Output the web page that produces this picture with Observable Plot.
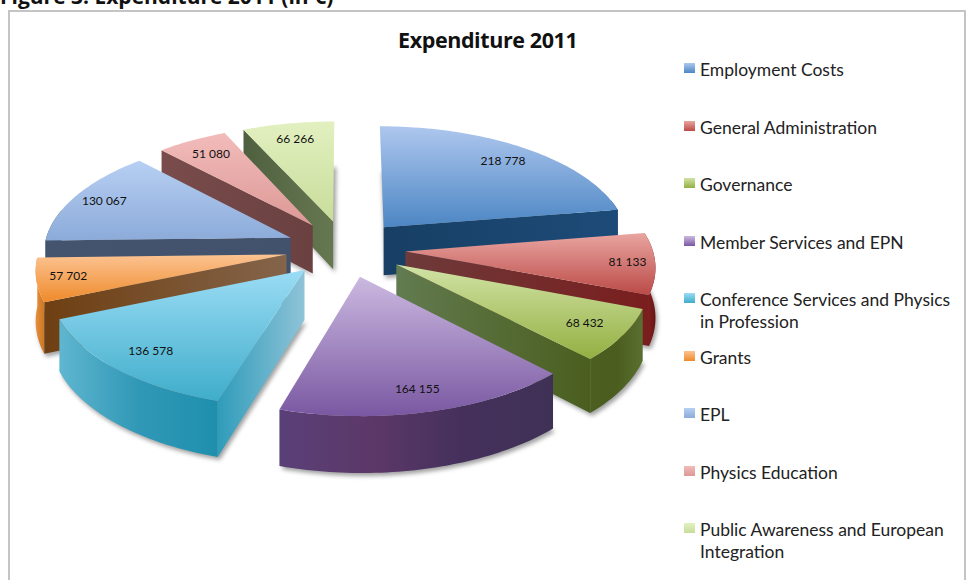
<!DOCTYPE html>
<html>
<head>
<meta charset="utf-8">
<script src="https://cdn.jsdelivr.net/npm/d3@7"></script>
<script src="https://cdn.jsdelivr.net/npm/@observablehq/plot@0.6"></script>
<style>
  html, body { margin: 0; padding: 0; background: #fff; width: 971px; height: 580px; overflow: hidden; font-family: Lato, "Open Sans", sans-serif; }
  #page { position: relative; width: 971px; height: 580px; overflow: hidden; }
  #heading { position: absolute; left: 0; top: -15px; font: bold 21px/22px "Open Sans", sans-serif; letter-spacing: 0; color: #111; white-space: nowrap; }
  #frame { position: absolute; left: 8px; top: 10px; width: 958px; height: 590px; border: 2px solid #c4c4c4; box-sizing: border-box; }
  #title { position: absolute; left: 398px; top: 27px; font: bold 21.5px/26px "Open Sans", sans-serif; color: #111; letter-spacing: -0.4px; }
  #chart { position: absolute; left: 0; top: 0; }
  #legend { position: absolute; left: 0; top: 0; }
  .item { position: absolute; left: 700px; width: 262px; font: 17.5px/22px Lato, sans-serif; color: #222; }
  .swatch { position: absolute; left: -16px; top: 4px; width: 11px; height: 10px; }
  .shadow { filter: blur(2px); }
</style>
</head>
<body>
<div id="page">
  <div id="heading">Figure 3: Expenditure 2011 (in €)</div>
  <div id="frame"></div>
  <div id="title">Expenditure 2011</div>
  <div id="chart"></div>
  <div id="legend"></div>
</div>
<script>
// ---- data ----
const categories = ["Employment Costs", "General Administration", "Governance", "Member Services and EPN",
  "Conference Services and Physics in Profession", "Grants", "EPL", "Physics Education",
  "Public Awareness and European Integration"];
const values = [218778, 81133, 68432, 164155, 136578, 57702, 130067, 51080, 66266];
const valueLabels = ["218 778", "81 133", "68 432", "164 155", "136 578", "57 702", "130 067", "51 080", "66 266"];

// ---- colours: top gradient, rim gradient, wall gradient for each slice ----
const topColors = [["#aec7ee","#4c86c4"],["#e9a5a1","#bb4a47"],["#d2e3a6","#93b042"],["#cbb9e0","#7a58a2"],
  ["#9bdcf5","#3fadca"],["#fcc391","#ee8a2b"],["#b7cff3","#8cabd9"],["#f2bcba","#dc9896"],["#e2f0c0","#c8dd9a"]];
const rimColors = [["#1b4a78","#1a4268","#1b4a78"],["#8f2220","#7a1c1c","#6a1414"],["#4c5f20","#4a5d1f","#5a7030"],
  ["#5a4078","#5c3868","#45305c","#3f3156"],["#5fb6d0","#3098b6","#1f8fae"],["#e89040","#d9822c","#c87a2a"],
  ["#44546e","#44546e","#44546e"],["#6e4545","#6e4545","#6e4545"],["#5f7050","#5f7050","#5f7050"]];
const wallColors = [["#173f64","#1d4b78"],["#6e3a3a","#7a1e1e"],["#627b50","#4a5e1e"],["#5a4078","#3f3156"],
  ["#2f9cba","#8fc3d8"],["#6e3f12","#84644a"],["#44546e","#42526c"],["#7a4c4c","#6a4040"],["#4f6040","#667850"]];

// ---- 3D pie geometry: slices follow from the values, through one shared perspective ----
const radius = 247, explode = 60, tilt = 0.473, depth = 2205, thickness = 49;
const labelReach = [0.83, 0.89, 0.84, 0.85, 0.83, 0.875, 0.865, 0.83, 0.83];
const total = d3.sum(values);
const project = (u, v, z) => {
  const w = depth / (depth + v);
  return {x: u * w, y: tilt * v * w - z * w};
};
const dir = (a) => [Math.sin(a), Math.cos(a)];
let running = 0;
const slices = values.map((value, i) => {
  const a0 = running / total * 2 * Math.PI;
  running += value;
  const a1 = running / total * 2 * Math.PI;
  const [bu, bv] = dir((a0 + a1) / 2);
  return {i, value, a0, a1, ou: bu * explode, ov: bv * explode};
});
const arcAngles = (a, b) => {
  const n = Math.max(2, Math.ceil((b - a) / 0.02));
  return d3.range(n + 1).map((k) => a + (b - a) * k / n);
};
const rimPoint = (s, a, z) => {
  const [du, dv] = dir(a);
  return project(s.ou + du * radius, s.ov + dv * radius, z);
};
const apex = (s, z) => project(s.ou, s.ov, z);
const topFace = (s) => [apex(s, 0), ...arcAngles(s.a0, s.a1).map((a) => rimPoint(s, a, 0))];
const wallFace = (s, a) => [apex(s, 0), rimPoint(s, a, 0), rimPoint(s, a, thickness), apex(s, thickness)];
const rimFace = (s) => {
  const lo = Math.max(s.a0, Math.PI / 2 - 0.25), hi = Math.min(s.a1, 3 * Math.PI / 2 + 0.25);
  if (hi <= lo) return null;
  const arc = arcAngles(lo, hi);
  return [...arc.map((a) => rimPoint(s, a, 0)), ...arc.slice().reverse().map((a) => rimPoint(s, a, thickness))];
};
const bottomFace = (s) => [apex(s, thickness), ...arcAngles(s.a0, s.a1).map((a) => rimPoint(s, a, thickness))];

const face = (points, fill, extra = {}) => Plot.line(points, {x: "x", y: "y", fill, stroke: "none", curve: "linear", ...extra});
const order = slices.slice().sort((p, q) => q.ov - p.ov);
const marks = order.flatMap((s) => {
  const out = [face(bottomFace(s), "#8a8a8a", {className: "shadow", dx: 2, dy: 3, fillOpacity: 0.8})];
  const rim = rimFace(s);
  if (rim) out.push(face(rim, `url(#rim${s.i})`));
  if (Math.sin(s.a1) > 0) out.push(face(wallFace(s, s.a1), `url(#wall${s.i})`));
  if (Math.sin(s.a0) < 0) out.push(face(wallFace(s, s.a0), `url(#wall${s.i})`));
  out.push(face(topFace(s), `url(#top${s.i})`));
  return out;
});
const labelPoints = slices.map((s) => {
  const mid = (s.a0 + s.a1) / 2;
  const [du, dv] = dir(mid);
  const reach = radius * labelReach[s.i];
  const p = project(s.ou + du * reach, s.ov + dv * reach, 0);
  return {...p, text: valueLabels[s.i]};
});
marks.push(Plot.text(labelPoints, {x: "x", y: "y", text: "text", fill: "#111", fontSize: 12, fontFamily: "Lato, sans-serif"}));

const plot = Plot.plot({
  width: 971, height: 580, margin: 0,
  x: {domain: [-345, 626], range: [0, 971], axis: null},
  y: {domain: [248, -332], range: [0, 580], axis: null},
  style: {background: "transparent"},
  marks
});

// gradient definitions used by the faces
const ns = "http://www.w3.org/2000/svg";
const defs = document.createElementNS(ns, "defs");
const addGradient = (id, colors, vertical) => {
  const g = document.createElementNS(ns, "linearGradient");
  g.setAttribute("id", id);
  g.setAttribute("x1", 0); g.setAttribute("y1", 0);
  g.setAttribute("x2", vertical ? 0 : 1); g.setAttribute("y2", vertical ? 1 : 0);
  colors.forEach((c, k) => {
    const stop = document.createElementNS(ns, "stop");
    stop.setAttribute("offset", k / (colors.length - 1));
    stop.setAttribute("stop-color", c);
    g.appendChild(stop);
  });
  defs.appendChild(g);
};
slices.forEach((s) => {
  addGradient(`top${s.i}`, topColors[s.i], true);
  addGradient(`rim${s.i}`, rimColors[s.i], false);
  addGradient(`wall${s.i}`, wallColors[s.i], false);
});
plot.insertBefore(defs, plot.firstChild);
document.getElementById("chart").appendChild(plot);

// legend
const legendTops = [59, 117, 174, 232, 289, 347, 404, 462, 519];
const legend = document.getElementById("legend");
categories.forEach((name, i) => {
  const item = document.createElement("div");
  item.className = "item";
  item.style.top = legendTops[i] + "px";
  item.textContent = name;
  const sw = document.createElement("div");
  sw.className = "swatch";
  sw.style.background = `linear-gradient(${topColors[i][0]}, ${topColors[i][1]})`;
  item.appendChild(sw);
  legend.appendChild(item);
});
</script>
</body>
</html>
